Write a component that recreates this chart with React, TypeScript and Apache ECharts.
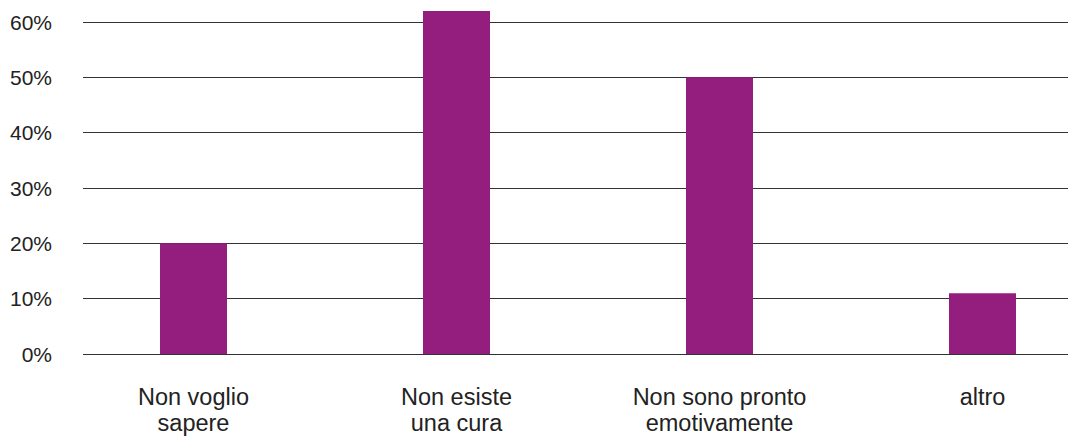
import React, { useEffect, useRef } from "react";
import * as echarts from "echarts";

const categories = [
  "Non voglio\nsapere",
  "Non esiste\nuna cura",
  "Non sono pronto\nemotivamente",
  "altro",
];
const values = [20, 62, 50, 11];
const yMin = 0;
const yMax = 60;
const yInterval = 10;

const FONT = '"Liberation Sans", Arial, Helvetica, sans-serif';

export default function App() {
  const ref = useRef<HTMLDivElement>(null);
  useEffect(() => {
    if (!ref.current) return;
    const chart = echarts.init(ref.current, undefined, { renderer: "svg" });
    chart.setOption({
      animation: false,
      backgroundColor: "#ffffff",
      textStyle: { fontFamily: FONT },
      grid: [
        { left: 83, right: 2, top: 22, bottom: 87, outerBoundsMode: "none" },
        { left: 62, right: -44, top: 22, bottom: 87, outerBoundsMode: "none" },
      ],
      xAxis: [
        { gridIndex: 0, type: "category", data: categories, show: false },
        {
          gridIndex: 1,
          type: "category",
          data: categories,
          axisLine: { show: false },
          axisTick: { show: false },
          splitLine: { show: false },
          axisLabel: {
            fontSize: 23.5,
            lineHeight: 26,
            color: "#222",
            margin: 30,
            fontFamily: FONT,
            interval: 0,
          },
        },
      ],
      yAxis: [
        {
          gridIndex: 0,
          type: "value",
          min: yMin,
          max: yMax,
          interval: yInterval,
          axisLine: { show: false },
          axisTick: { show: false },
          axisLabel: {
            formatter: "{value}%",
            fontSize: 21,
            color: "#222",
            margin: 31,
            fontFamily: FONT,
          },
          splitLine: { show: true, lineStyle: { color: "#333", width: 1 } },
        },
        {
          gridIndex: 1,
          type: "value",
          min: yMin,
          max: yMax,
          interval: yInterval,
          show: false,
          splitLine: { show: false },
        },
      ],
      series: [
        {
          type: "bar",
          xAxisIndex: 1,
          yAxisIndex: 1,
          data: values,
          barWidth: 67,
          clip: false,
          itemStyle: { color: "#941E7E" },
        },
      ],
    });
    return () => chart.dispose();
  }, []);
  return (
    <div
      ref={ref}
      style={{ position: "fixed", left: 0, top: 0, width: 1070, height: 441 }}
    />
  );
}
